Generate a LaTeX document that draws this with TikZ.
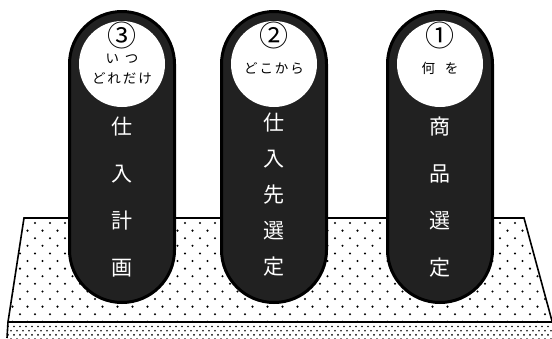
\documentclass[tikz,border=0pt]{standalone}
\usepackage{fontspec}
\setmainfont{Noto Sans CJK JP}
\begin{document}
\begin{tikzpicture}[x=1pt,y=-1pt,
  pill/.style={draw=black, line width=3pt, fill=black!87, rounded corners=52.5pt,
    minimum width=105pt, minimum height=291pt, inner sep=0pt},
  disc/.style={circle, fill=white, minimum size=86pt, inner sep=0pt},
  num/.style={inner sep=0pt, font=\fontsize{29}{29}\selectfont},
  kana/.style={inner sep=0pt, font=\fontsize{13.5}{14}\selectfont},
  big/.style={inner sep=0pt, text=white, font=\fontsize{21}{21}\selectfont},
  edge/.style={line width=1.6pt, line join=miter}]
\useasboundingbox (0,0) rectangle (552,338);
% platform top face dots
\begin{scope}
  \clip (24,218) -- (524,218) -- (552,321) -- (8,321) -- cycle;
  \foreach \r in {0,...,13} {
    \pgfmathsetmacro\yy{223+7.6*\r}
    \pgfmathsetmacro\off{5+mod(\r,2)*7.5}
    \foreach \c in {0,...,37}
      \fill (\c*15+\off, \yy) circle (1.15);
  }
\end{scope}
% front face dots
\begin{scope}
  \clip (8,323) rectangle (552,338);
  \foreach \r in {0,...,3} {
    \pgfmathsetmacro\yy{326.5+4.2*\r}
    \pgfmathsetmacro\off{2+mod(\r,2)*3}
    \foreach \c in {0,...,92}
      \fill (\c*6+\off, \yy) circle (0.95);
  }
\end{scope}
\draw[edge] (8,322) -- (24,218) -- (524,218) -- (552,321);
\draw[edge] (8,322) -- (7,338);
\draw[line width=2.6pt] (8,322) -- (552,322);
% pills
\node[pill] (pill3) at (122,157) {};
\node[pill] (pill2) at (274,157) {};
\node[pill] (pill1) at (440,157) {};
\node[disc] (disc3) at (122,64) {};
\node[disc] (disc2) at (274,64) {};
\node[disc] (disc1) at (440,64) {};
% circle texts
\node[num] (num3) at (122,35) {③};
\node[num] (num2) at (274,35) {②};
\node[num] (num1) at (440,35) {①};
\node[kana] (q3a) at (122,59) {い\hspace{6pt}つ};
\node[kana] (q3b) at (122,78) {ど\hspace{2pt}れ\hspace{2pt}だ\hspace{2pt}け};
\node[kana] (q2) at (274,68) {ど\hspace{2pt}こ\hspace{2pt}か\hspace{2pt}ら};
\node[kana] (q1) at (440,68) {何\hspace{10pt}を};
% vertical texts
\foreach \ch [count=\i] in {仕,入,計,画}
  \node[big] (a\i) at (122,127+47*\i-47) {\ch};
\foreach \ch [count=\i] in {仕,入,先,選,定}
  \node[big] (b\i) at (274,123+36*\i-36) {\ch};
\foreach \ch [count=\i] in {商,品,選,定}
  \node[big] (c\i) at (440,127+47*\i-47) {\ch};
\end{tikzpicture}
\end{document}
